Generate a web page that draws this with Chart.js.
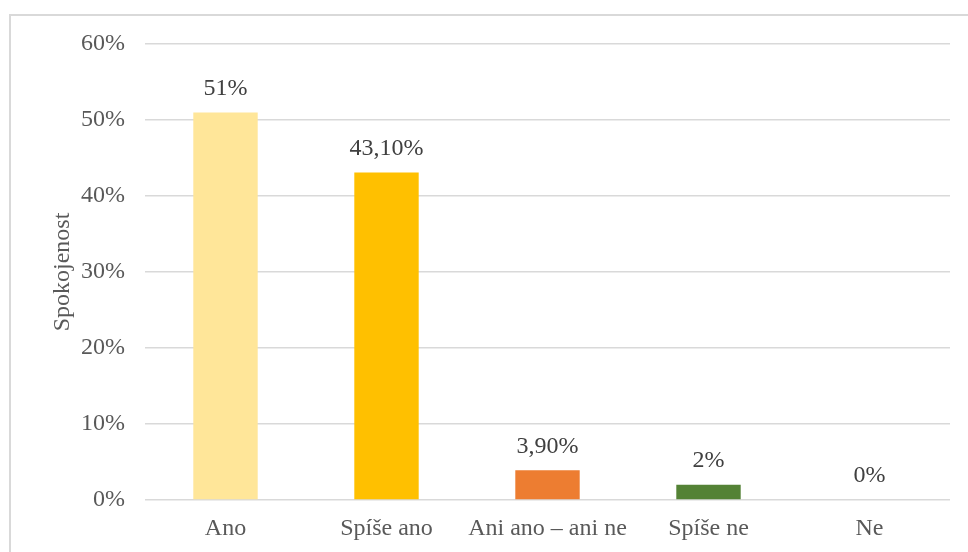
<!DOCTYPE html>
<html lang="cs">
<head>
<meta charset="utf-8">
<title>Spokojenost</title>
<script src="https://cdn.jsdelivr.net/npm/chart.js@4.4.1/dist/chart.umd.min.js"></script>
<style>
  html, body { margin: 0; padding: 0; background: #fff; overflow: hidden; }
  .wrap { position: relative; width: 968px; height: 552px; }
  .frame {
    position: absolute; left: 9px; top: 14px; width: 1000px; height: 600px;
    border: 2px solid #d9d9d9; box-sizing: border-box;
  }
  canvas { position: absolute; left: 0; top: 0; }
</style>
</head>
<body>
<div class="wrap">
  <div class="frame"></div>
  <canvas id="chart" width="968" height="552"></canvas>
</div>
<script>
const categories = ['Ano', 'Spíše ano', 'Ani ano – ani ne', 'Spíše ne', 'Ne'];
const values = [51, 43.1, 3.9, 2, 0];
const barColors = ['#FFE699', '#FFC000', '#ED7D31', '#548235', '#A5A5A5'];
const yTicks = [0, 10, 20, 30, 40, 50, 60];

const FONT = "'Liberation Serif', 'Times New Roman', serif";
const FONT_SIZE = 24;

function fmtValue(v) {
  return Number.isInteger(v) ? v + '%' : v.toFixed(2).replace('.', ',') + '%';
}

// value labels above each bar
const barLabels = {
  id: 'barLabels',
  afterDatasetsDraw(chart) {
    const { ctx } = chart;
    const meta = chart.getDatasetMeta(0);
    ctx.save();
    ctx.font = FONT_SIZE + 'px ' + FONT;
    ctx.fillStyle = '#404040';
    ctx.textAlign = 'center';
    ctx.textBaseline = 'middle';
    meta.data.forEach((bar, i) => {
      ctx.fillText(fmtValue(values[i]), bar.x, bar.y - 24);
    });
    ctx.restore();
  }
};

new Chart(document.getElementById('chart'), {
  type: 'bar',
  data: {
    labels: categories,
    datasets: [{
      data: values,
      backgroundColor: barColors,
      borderWidth: 0,
      categoryPercentage: 1,
      barPercentage: 0.4
    }]
  },
  options: {
    responsive: false,
    animation: false,
    layout: { padding: { left: 44, right: 18, top: 44, bottom: 12 } },
    plugins: { legend: { display: false }, tooltip: { enabled: false } },
    scales: {
      x: {
        afterFit(scale) { scale.height = 40; },
        grid: { display: false, drawTicks: false },
        border: { display: false },
        ticks: {
          color: '#595959',
          padding: 14,
          autoSkip: false,
          maxRotation: 0,
          minRotation: 0,
          font: { family: FONT, size: FONT_SIZE }
        }
      },
      y: {
        min: 0,
        max: 60,
        afterBuildTicks(scale) { scale.ticks = yTicks.map(v => ({ value: v })); },
        afterFit(scale) { scale.width = 101; },
        grid: { color: '#d9d9d9', lineWidth: 1.5, drawTicks: false },
        border: { display: false },
        ticks: {
          color: '#595959',
          padding: 20,
          font: { family: FONT, size: FONT_SIZE },
          callback: v => v + '%'
        },
        title: {
          display: true,
          text: 'Spokojenost',
          color: '#595959',
          font: { family: FONT, size: FONT_SIZE }
        }
      }
    }
  },
  plugins: [barLabels]
});
</script>
</body>
</html>
